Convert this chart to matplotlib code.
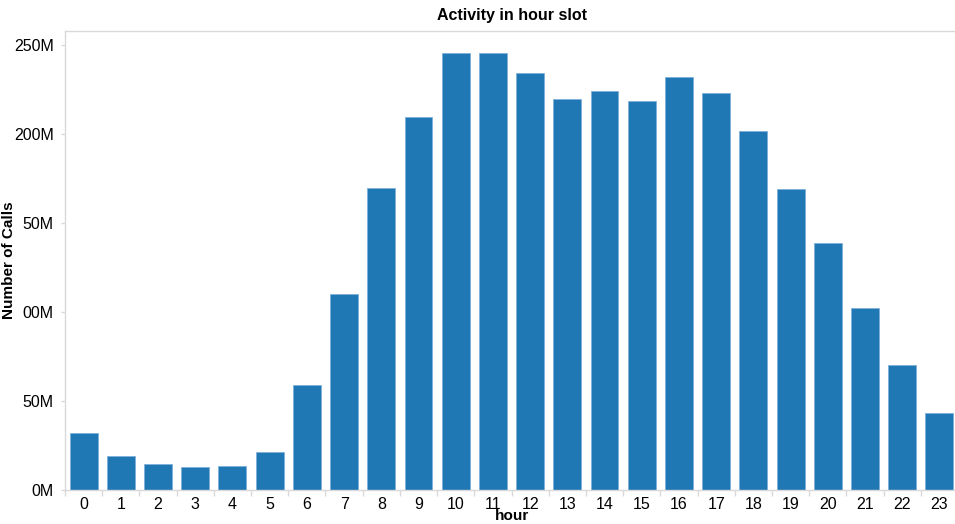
import numpy as np
import matplotlib.pyplot as plt

plt.rcParams['font.family'] = ['Liberation Sans', 'DejaVu Sans']

hours = list(range(24))
calls_m = [32.0, 19.1, 14.6, 12.9, 13.5, 21.3, 59.0, 110.0, 169.7, 209.6, 245.5, 245.5,
           234.3, 219.7, 224.2, 218.5, 232.0, 223.0, 202.0, 169.0, 138.8, 102.2, 70.2, 43.3]
ytick_vals = [0, 50, 100, 150, 200, 250]
ytick_labels = ['0M', '50M', '00M', '50M', '200M', '250M']

BAR_COLOR = '#1f77b4'
AXIS_GREY = '#d9d9d9'

fig = plt.figure(figsize=(9.55, 5.24), dpi=100)
ax = fig.add_axes([65 / 955, 1 - 490 / 524, 893 / 955, 459 / 524])

ax.bar(hours, calls_m, width=0.75, color=BAR_COLOR, edgecolor='#7fb0da', linewidth=0.6)

ax.set_xlim(-0.5, 23.5)
ax.set_ylim(0, 258)

ax.set_xticks(hours)
ax.set_xticklabels([str(h) for h in hours], fontsize=11.5)
ax.set_xticks(np.arange(-0.5, 24, 1), minor=True)
ax.tick_params(axis='x', which='major', length=0, pad=5)
ax.tick_params(axis='x', which='minor', length=4, color=AXIS_GREY, width=1)

ax.set_yticks(ytick_vals)
ax.set_yticklabels(ytick_labels, fontsize=11.5)
ax.tick_params(axis='y', length=3, color=AXIS_GREY, width=1, pad=5)

for side in ['left', 'bottom', 'top']:
    ax.spines[side].set_color(AXIS_GREY)
    ax.spines[side].set_linewidth(1)
ax.spines['right'].set_visible(False)

ax.set_title('Activity in hour slot', fontsize=11.5, fontweight='bold', pad=8)
ax.set_xlabel('hour', fontsize=11, fontweight='bold', labelpad=-2)
ax.set_ylabel('Number of Calls', fontsize=11, fontweight='bold')
ax.yaxis.set_label_coords(-49 / 893, 0.5)

fig.savefig('out.png', dpi=100)
